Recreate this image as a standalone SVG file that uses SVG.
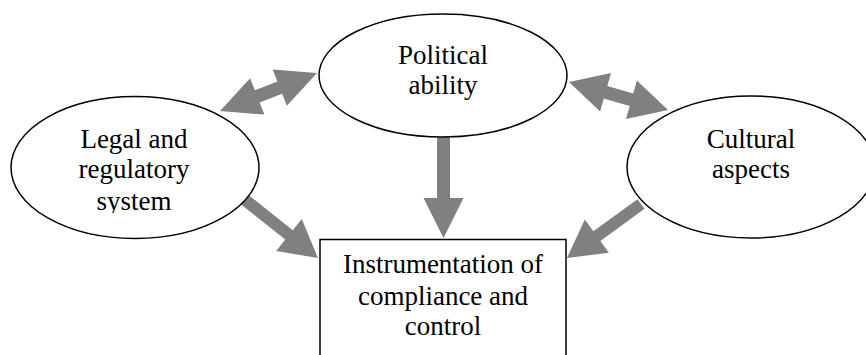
<svg xmlns="http://www.w3.org/2000/svg" width="866" height="355" viewBox="0 0 866 355">
  <style>
    .node { fill: #ffffff; stroke: #000000; stroke-width: 1.5; }
    .lbl { font-family: "Liberation Serif", "Times New Roman", serif; font-size: 27px; fill: #000000; text-anchor: middle; }
    .arrow { fill: #808080; stroke: none; }
  </style>
  <defs>
    <clipPath id="clipLegal">
      <rect x="0" y="0" width="300" height="213"/>
    </clipPath>
  </defs>
  <rect x="0" y="0" width="866" height="355" fill="#ffffff"/>

  <g id="connectors">
    <!-- Legal <-> Political -->
    <polygon class="arrow" transform="translate(220,111) rotate(-21.4)" points="0,0 40,-19.5 40,-6.5 64.2,-6.5 64.2,-19.5 104.2,0 64.2,19.5 64.2,6.5 40,6.5 40,19.5"/>
    <!-- Political <-> Cultural -->
    <polygon class="arrow" transform="translate(569,82) rotate(15.8)" points="0,0 38,-20 38,-6.5 64.9,-6.5 64.9,-20 102.9,0 64.9,20 64.9,6.5 38,6.5 38,20"/>
    <!-- Legal -> Box -->
    <polygon class="arrow" transform="translate(244,199) rotate(38.6)" points="0,-6 57.6,-6 57.6,-20.5 94.6,0 57.6,20.5 57.6,6 0,6"/>
    <!-- Political -> Box -->
    <polygon class="arrow" transform="translate(443.5,137) rotate(90)" points="0,-6.5 61,-6.5 61,-20 101,0 61,20 61,6.5 0,6.5"/>
    <!-- Cultural -> Box -->
    <polygon class="arrow" transform="translate(641,204) rotate(143.9)" points="0,-6 54.6,-6 54.6,-20.5 91.6,0 54.6,20.5 54.6,6 0,6"/>
  </g>

  <g id="political">
    <ellipse class="node" cx="443" cy="75.5" rx="124" ry="61.5"/>
    <text class="lbl" x="443" y="63.5">Political</text>
    <text class="lbl" x="443" y="94">ability</text>
  </g>

  <g id="legal">
    <ellipse class="node" cx="135" cy="167.5" rx="124" ry="71"/>
    <g clip-path="url(#clipLegal)">
      <text class="lbl" x="134" y="147.5">Legal and</text>
      <text class="lbl" x="134" y="178">regulatory</text>
      <text class="lbl" x="134" y="209.5">system</text>
    </g>
  </g>

  <g id="cultural">
    <ellipse class="node" cx="751" cy="167" rx="124" ry="71"/>
    <text class="lbl" x="751" y="148">Cultural</text>
    <text class="lbl" x="751" y="178">aspects</text>
  </g>

  <g id="instrumentation">
    <rect class="node" x="320" y="239.5" width="246" height="130"/>
    <text class="lbl" x="443" y="273">Instrumentation of</text>
    <text class="lbl" x="443" y="304.5">compliance and</text>
    <text class="lbl" x="443" y="335">control</text>
  </g>
</svg>
